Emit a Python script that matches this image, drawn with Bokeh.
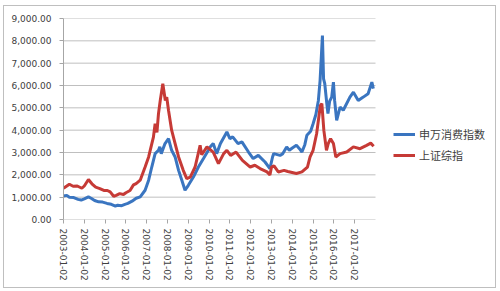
import pandas as pd
from bokeh.plotting import figure
from bokeh.models import FixedTicker, NumeralTickFormatter, Legend, LegendItem, Range1d
from bokeh.embed import file_html
from bokeh.resources import INLINE

# ---- data ----
sw_dates = ["2003-01-02", "2003-03-01", "2003-04-15", "2003-07-01", "2003-09-15", "2003-11-10",
            "2004-01-02", "2004-03-15", "2004-05-01", "2004-07-01", "2004-09-10", "2004-11-20",
            "2005-02-05", "2005-04-20", "2005-07-01", "2005-08-10", "2005-10-20", "2005-12-15",
            "2006-02-05", "2006-04-20", "2006-07-01", "2006-09-10", "2006-12-05",
            "2007-02-05", "2007-04-01", "2007-05-30", "2007-07-28", "2007-08-20", "2007-09-15",
            "2007-11-20", "2008-01-20", "2008-03-15", "2008-05-15", "2008-07-15", "2008-09-10",
            "2008-11-05", "2009-01-02", "2009-04-01", "2009-06-28", "2009-09-25", "2009-12-20",
            "2010-01-20", "2010-03-15", "2010-05-15", "2010-07-20",
            "2010-11-10", "2011-01-02", "2011-02-20", "2011-05-25", "2011-08-01", "2011-11-25",
            "2012-02-15", "2012-05-15", "2012-09-10", "2012-12-05", "2013-01-20", "2013-02-10",
            "2013-06-01", "2013-07-20", "2013-09-25", "2013-11-10", "2014-01-02", "2014-03-15",
            "2014-05-15", "2014-06-20", "2014-08-10", "2014-09-15", "2014-11-20", "2015-01-02",
            "2015-02-20", "2015-04-05", "2015-05-05", "2015-06-15", "2015-07-05", "2015-07-25",
            "2015-08-25", "2015-09-20", "2015-10-20", "2015-11-25", "2015-12-25", "2016-01-15",
            "2016-02-20", "2016-04-20", "2016-06-15", "2016-10-10", "2016-12-10", "2017-03-05",
            "2017-06-01", "2017-08-25", "2017-10-30", "2017-11-25"]
sw_values = [1050, 1080, 1000, 980, 900, 870,
             920, 1010, 950, 850, 790, 780,
             720, 680, 600, 640, 620, 680,
             720, 820, 950, 1010, 1310,
             1760, 2350, 2950, 3100, 3250, 2950,
             3400, 3620, 3100, 2800, 2200, 1760,
             1310, 1530, 1900, 2350, 2730, 3100,
             3250, 3400, 2950, 3400,
             3920, 3620, 3700, 3400, 3475, 3020,
             2730, 2870, 2575, 2280, 2800, 2950,
             2870, 2950, 3250, 3100, 3200, 3320,
             3150, 3020, 3350, 3770, 3950, 4290,
             4700, 5330, 6230, 8240, 6300, 6100,
             5330, 4740, 5300, 5480, 6150, 5330,
             4440, 5030, 4890, 5480, 5700, 5330,
             5480, 5630, 6150, 5860]

sh_dates = ["2003-01-02", "2003-03-01", "2003-04-15", "2003-06-20", "2003-09-01", "2003-11-20",
            "2004-01-02", "2004-03-15", "2004-05-15", "2004-07-20", "2004-10-01", "2004-12-10",
            "2005-02-10", "2005-04-01", "2005-06-01", "2005-07-15", "2005-09-15", "2005-11-20",
            "2006-01-02", "2006-03-15", "2006-05-15", "2006-07-01", "2006-09-10", "2006-12-05",
            "2007-02-05", "2007-04-30", "2007-05-30", "2007-07-01", "2007-07-28", "2007-08-28",
            "2007-10-12", "2007-11-25", "2007-12-20", "2008-01-20", "2008-03-15", "2008-05-15",
            "2008-07-15", "2008-10-05", "2008-12-05", "2009-02-05", "2009-05-01", "2009-07-28",
            "2009-08-25", "2009-11-25", "2010-03-15", "2010-06-15", "2010-09-15",
            "2010-11-10", "2011-01-15", "2011-04-20", "2011-08-10", "2011-12-25", "2012-03-15",
            "2012-06-15", "2012-10-15", "2012-12-05", "2013-01-02", "2013-02-15", "2013-05-01",
            "2013-08-10", "2013-10-15", "2014-03-15", "2014-06-20", "2014-09-25", "2014-11-10",
            "2015-01-02", "2015-03-05", "2015-05-10", "2015-06-05", "2015-07-10", "2015-08-25",
            "2015-09-25", "2015-11-05", "2015-12-25", "2016-02-05", "2016-04-20", "2016-08-15",
            "2016-12-10", "2017-04-05", "2017-07-30", "2017-10-10", "2017-11-30"]
sh_values = [1400, 1500, 1580, 1490, 1500, 1400,
             1500, 1790, 1600, 1450, 1385, 1300,
             1300, 1235, 1040, 1080, 1160, 1120,
             1200, 1300, 1550, 1610, 1760, 2350,
             2800, 3690, 4290, 3900, 4740, 5330,
             6080, 5330, 5480, 4890, 4000, 3400,
             2800, 2200, 1830, 1900, 2350, 3320,
             2900, 3250, 3020, 2500, 2950,
             3100, 2870, 3020, 2650, 2350, 2430,
             2280, 2130, 2000, 2350, 2400, 2130,
             2200, 2150, 2060, 2130, 2350, 2800,
             3100, 3840, 5110, 5190, 3990, 3100,
             3400, 3620, 3400, 2800, 2950, 3020,
             3250, 3170, 3320, 3420, 3280]

tick_labels = ["2003-01-02", "2004-01-02", "2005-01-02", "2006-01-02", "2007-01-02",
               "2008-01-02", "2009-01-02", "2010-01-02", "2011-01-02", "2012-01-02",
               "2013-01-02", "2014-01-02", "2015-01-02", "2016-01-02", "2017-01-02"]
y_ticks = [0, 1000, 2000, 3000, 4000, 5000, 6000, 7000, 8000, 9000]
series_names = ["申万消费指数", "上证综指"]
axis_start, axis_end = "2003-01-02", "2018-01-02"


def to_ms(s):
    return float(pd.Timestamp(s).timestamp() * 1000.0)


sw_x = [to_ms(d) for d in sw_dates]
sh_x = [to_ms(d) for d in sh_dates]
tick_ms = [to_ms(t) for t in tick_labels]

# layout (pixels inside the bordered figure)
W, H = 493, 283
left, top, bottom = 59, 12, 70
frame_w = W - left           # frame extends to the right edge (legend sits inside it)
plot_w = 312                 # width of the plotted area (axis_start .. axis_end)
x0, x1 = to_ms(axis_start), to_ms(axis_end)
x_range_end = x0 + (x1 - x0) * frame_w / plot_w

p = figure(width=W, height=H,
           x_range=Range1d(x0, x_range_end), y_range=Range1d(0, 9000),
           output_backend="svg", toolbar_location=None,
           min_border_left=left, min_border_right=0,
           min_border_top=top, min_border_bottom=bottom,
           background_fill_color="white", border_fill_color="white")
p.styles = {"border": "1px solid #BFBFBF", "margin-left": "3px", "margin-top": "5px"}
p.outline_line_color = None

blue = "#3A75C0"
red = "#C63A36"

# horizontal gridlines limited to the plotted area
p.segment(x0=[x0] * len(y_ticks), x1=[x1] * len(y_ticks), y0=y_ticks, y1=y_ticks,
          line_color="#BFBFBF", line_width=1)

r1 = p.line(sw_x, sw_values, line_color=blue, line_width=3)
r2 = p.line(sh_x, sh_values, line_color=red, line_width=3)

p.xgrid.visible = False
p.ygrid.visible = False

p.xaxis.ticker = FixedTicker(ticks=tick_ms)
p.xaxis.major_label_overrides = {t: lab for t, lab in zip(tick_ms, tick_labels)}
p.xaxis.major_label_orientation = "vertical"
p.yaxis.ticker = FixedTicker(ticks=y_ticks)
p.yaxis.formatter = NumeralTickFormatter(format="0,0.00")

for ax in (p.xaxis[0], p.yaxis[0]):
    ax.axis_line_color = "#A6A6A6"
    ax.major_tick_line_color = "#A6A6A6"
    ax.major_tick_out = 4
    ax.major_tick_in = 0
    ax.minor_tick_line_color = None
    ax.major_label_text_font = "DejaVu Sans"
    ax.major_label_text_font_size = "9px"
    ax.major_label_text_color = "#404040"
p.xaxis.axis_line_color = None
p.yaxis.major_label_standoff = 8
p.xaxis.major_label_standoff = 5

legend = Legend(items=[LegendItem(label=series_names[0], renderers=[r1]),
                       LegendItem(label=series_names[1], renderers=[r2])],
                location=(330, 54), orientation="vertical",
                label_text_font="Noto Sans CJK SC", label_text_font_size="11px",
                label_text_color="#404040", glyph_width=22, glyph_height=20,
                label_height=20, label_standoff=4, spacing=1, padding=0, margin=0,
                border_line_color=None, background_fill_alpha=0)
p.add_layout(legend)

open("out.html", "w").write(file_html(p, INLINE))
